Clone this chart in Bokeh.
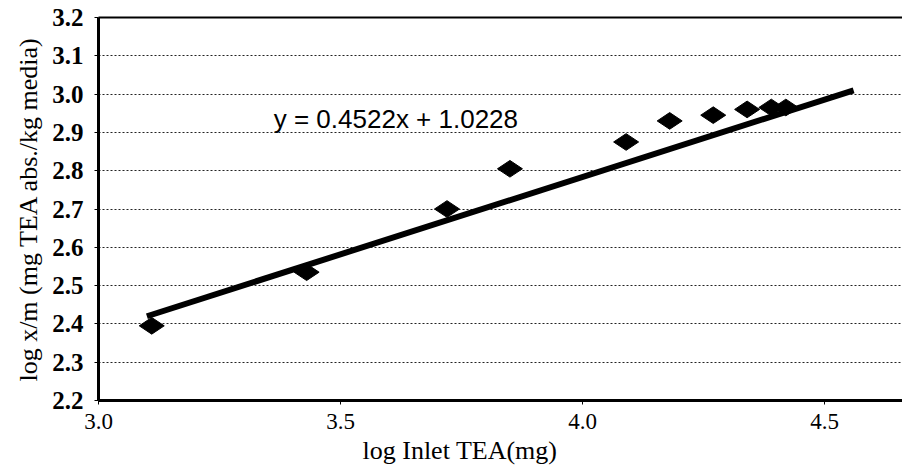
import numpy as np
from bokeh.plotting import figure
from bokeh.models import Range1d, LinearAxis, FixedTicker, Title, Label, PrintfTickFormatter
from bokeh.embed import file_html
from bokeh.resources import INLINE

# ---- data ----
inlet_log = [3.11, 3.43, 3.72, 3.85, 4.09, 4.18, 4.27, 4.34, 4.39, 4.42]
xm_log = [2.395, 2.535, 2.70, 2.805, 2.875, 2.93, 2.945, 2.96, 2.965, 2.965]
trend_x = [3.10, 4.56]
trend_y = [2.42, 3.01]
eq_text = "y = 0.4522x + 1.0228"
x_ticks = [3.0, 3.5, 4.0, 4.5]
y_ticks = [2.2, 2.3, 2.4, 2.5, 2.6, 2.7, 2.8, 2.9, 3.0, 3.1, 3.2]
x_title = "log Inlet TEA(mg)"
y_title = "log x/m (mg TEA abs./kg media)"

SERIF = "Liberation Serif"
SANS = "Liberation Sans"

p = figure(width=902, height=470,
           x_range=Range1d(3.0, 4.661), y_range=Range1d(2.2, 3.2),
           output_backend="svg", toolbar_location=None,
           min_border_left=98, min_border_right=0,
           min_border_top=17, min_border_bottom=70)
p.outline_line_color = None
p.background_fill_color = "white"
p.border_fill_color = "white"

# grid
p.xgrid.grid_line_color = None
p.ygrid.ticker = FixedTicker(ticks=y_ticks)
p.ygrid.grid_line_color = "#222222"
p.ygrid.grid_line_dash = "2 2"
p.ygrid.grid_line_width = 1

# x axis
xa = p.xaxis[0]
xa.ticker = FixedTicker(ticks=x_ticks)
xa.formatter = PrintfTickFormatter(format="%.1f")
xa.axis_line_width = 3
xa.axis_line_color = "black"
xa.major_tick_out = 4
xa.major_tick_in = 0
xa.minor_tick_line_color = None
xa.major_label_text_font = SERIF
xa.major_label_text_font_size = "23px"
xa.major_label_text_color = "black"
xa.major_label_standoff = 9

# y axis
ya = p.yaxis[0]
ya.ticker = FixedTicker(ticks=y_ticks)
ya.formatter = PrintfTickFormatter(format="%.1f")
ya.axis_line_width = 3
ya.axis_line_color = "black"
ya.major_tick_out = 4
ya.major_tick_in = 0
ya.minor_tick_line_color = None
ya.major_label_text_font = SERIF
ya.major_label_text_font_size = "25px"
ya.major_label_text_font_style = "bold"
ya.major_label_text_color = "black"
ya.major_label_standoff = 11
ya.axis_label = y_title
ya.axis_label_text_font = SERIF
ya.axis_label_text_font_size = "26px"
ya.axis_label_text_font_style = "normal"
ya.axis_label_text_color = "black"
ya.axis_label_standoff = 6

# top border
top = LinearAxis(ticker=FixedTicker(ticks=[]), axis_line_width=2, axis_line_color="black",
                 major_tick_line_color=None, minor_tick_line_color=None,
                 major_label_text_font_size="0px", major_label_standoff=0)
p.add_layout(top, "above")

# x title
p.add_layout(Title(text=x_title, align="left", offset=264, text_font=SERIF,
                   text_font_size="26px", text_font_style="normal",
                   text_color="black", standoff=4), "below")

# trend line and points
p.line(trend_x, trend_y, line_width=6, line_color="black")
p.scatter(inlet_log, xm_log, marker="diamond", size=25, angle=np.pi / 2,
          fill_color="black", line_color="black")

p.add_layout(Label(x=3.362, y=2.934, text=eq_text, text_font=SANS,
                   text_font_size="26px", text_color="black",
                   text_align="left", text_baseline="middle"))

open("out.html", "w").write(file_html(p, INLINE))
